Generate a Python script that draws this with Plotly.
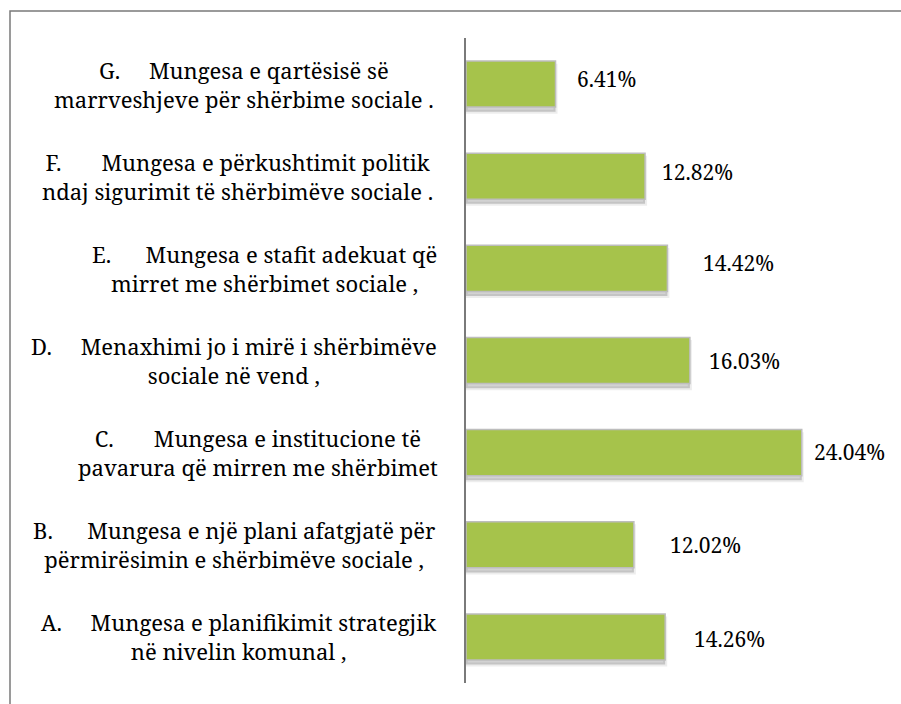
import plotly.graph_objects as go

# ---- data ----
letters = ["A.", "B.", "C.", "D.", "E.", "F.", "G."]
line1 = [
    "Mungesa e planifikimit strategjik",
    "Mungesa e një plani afatgjatë për",
    "Mungesa e institucione të",
    "Menaxhimi jo i mirë i shërbimëve",
    "Mungesa e stafit adekuat që",
    "Mungesa e përkushtimit politik",
    "Mungesa e qartësisë së",
]
line2 = [
    "në nivelin komunal ,",
    "përmirësimin e shërbimëve sociale ,",
    "pavarura që mirren me shërbimet",
    "sociale në vend ,",
    "mirret me shërbimet sociale ,",
    "ndaj sigurimit të shërbimëve sociale .",
    "marrveshjeve për shërbime sociale .",
]
values = [14.26, 12.02, 24.04, 16.03, 14.42, 12.82, 6.41]
value_labels = ["14.26%", "12.02%", "24.04%", "16.03%", "14.42%", "12.82%", "6.41%"]

# ---- style / layout helpers ----
W, H = 901, 704
ML, MR, MT, MB = 466, 16, 38, 21
XMAX = 30
label_centers_px = [239, 234, 258, 234, 264, 237, 244]   # horizontal centres of category text blocks
gap_spaces = [5, 6, 7, 5, 6, 7, 5]
value_xshift = [27, 34, 10, 17, 34, 15, 19]
value_yshift = [-2, 0, 1, 0, 5, 4, 5]

plot_w = W - ML - MR
plot_h = H - MT - MB
def px_to_paper_x(px):
    return (px - ML) / plot_w
def px_to_paper_y(py):
    return 1 - (py - MT) / plot_h

idx = list(range(len(values)))
serif = "Noto Serif"

fig = go.Figure()
# soft shadow
fig.add_trace(go.Bar(
    x=values, y=idx, orientation="h", width=0.5, offset=-0.25 - 0.05,
    marker=dict(color="rgba(80,80,80,0.26)", line=dict(color="rgba(80,80,80,0.10)", width=4)),
    hoverinfo="skip", showlegend=False,
))
fig.add_trace(go.Bar(
    x=values, y=idx, orientation="h", width=0.5, offset=-0.25,
    marker=dict(color="#a6c34b", line=dict(color="#bdbdbd", width=1.5)),
    showlegend=False,
))

annotations = []
for i in idx:
    gap = "\u00a0" * gap_spaces[i]
    txt = f"{letters[i]}{gap}{line1[i]}<br>{line2[i]}"
    annotations.append(dict(
        x=px_to_paper_x(label_centers_px[i]), xref="paper", y=i, yref="y",
        text=txt, showarrow=False, xanchor="center", yanchor="middle", align="center",
        font=dict(family=serif, size=22, color="#000000"),
    ))
    annotations.append(dict(
        x=values[i], xref="x", y=i, yref="y", text=value_labels[i], showarrow=False,
        xanchor="left", yanchor="middle", xshift=value_xshift[i], yshift=value_yshift[i],
        font=dict(family=serif, size=21, color="#000000"),
    ))

frame = dict(type="rect", xref="paper", yref="paper",
             x0=px_to_paper_x(10), x1=px_to_paper_x(W + 20),
             y0=px_to_paper_y(H + 20), y1=px_to_paper_y(11),
             line=dict(color="#7a7a7a", width=1.5), fillcolor="rgba(0,0,0,0)", layer="below")

fig.update_layout(
    width=W, height=H,
    margin=dict(l=ML, r=MR, t=MT, b=MB, pad=0),
    paper_bgcolor="white", plot_bgcolor="white",
    barmode="overlay",
    font=dict(family=serif),
    xaxis=dict(range=[0, XMAX], visible=False, fixedrange=True),
    yaxis=dict(range=[-0.5, len(values) - 0.5], showticklabels=False, ticks="",
               showgrid=False, zeroline=False, showline=True, linecolor="#7a7a7a",
               linewidth=1.5, fixedrange=True),
    annotations=annotations,
    shapes=[frame],
    showlegend=False,
)

fig.write_html("out.html", config={"displayModeBar": False},
               post_script="document.body.style.margin='0';document.body.style.overflow='hidden';")
